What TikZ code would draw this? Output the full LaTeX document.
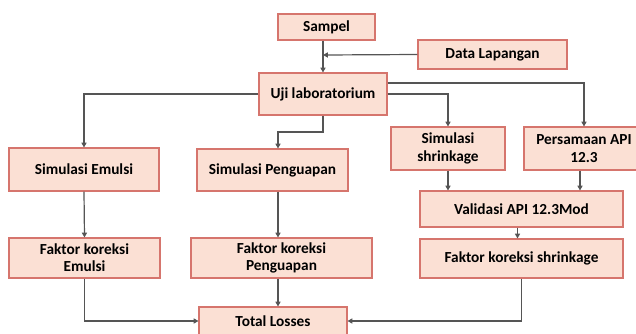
\documentclass[tikz,border=0pt]{standalone}
\usepackage{fontspec}
\setmainfont{Carlito}
\usepackage{xcolor}
\usetikzlibrary{arrows.meta,positioning}
\definecolor{isi}{HTML}{FBE0D4}
\definecolor{tepi}{HTML}{D6756D}
\definecolor{garis}{HTML}{555555}
\tikzset{
  blok/.style={draw=tepi,fill=isi,line width=0.8pt,align=center,inner sep=1pt,
    font=\fontsize{11.5}{13}\selectfont\bfseries},
  panah/.style={draw=garis,line width=0.9pt,-{Triangle[length=3.6pt,width=3.8pt]}}
}
\begin{document}
\begin{tikzpicture}[x=0.75pt,y=-0.75pt]
\useasboundingbox (0,0) rectangle (636,333);
\node[blok,minimum width=72.75pt,minimum height=19.5pt] (sampel) at (326.5,27) {Sampel};
\node[blok,minimum width=111.75pt,minimum height=21.75pt] (datalap) at (492.5,54.5) {Data Lapangan};
\node[blok,minimum width=96pt,minimum height=31.5pt] (uji) at (323,94) {Uji laboratorium};
\node[blok,minimum width=112.5pt,minimum height=32.25pt] (emulsi) at (84,169.5) {Simulasi Emulsi};
\node[blok,minimum width=113.25pt,minimum height=31.5pt] (penguapan) at (272.5,170) {Simulasi Penguapan};
\node[blok,minimum width=85.5pt,minimum height=32.25pt] (shrink) at (448,148.5) {Simulasi\\shrinkage};
\node[blok,minimum width=90pt,minimum height=32.25pt] (persamaan) at (584,148.5) {Persamaan API\\12.3};
\node[blok,minimum width=152.25pt,minimum height=27pt] (validasi) at (521.5,209) {Validasi API 12.3Mod};
\node[blok,minimum width=152.25pt,minimum height=29.25pt] (fkshrink) at (521.5,258.5) {Faktor koreksi shrinkage};
\node[blok,minimum width=113.25pt,minimum height=30pt] (fkemulsi) at (84.5,258) {Faktor koreksi\\Emulsi};
\node[blok,minimum width=135.75pt,minimum height=30pt] (fkpenguapan) at (281.5,258) {Faktor koreksi\\Penguapan};
\node[blok,minimum width=111pt,minimum height=21pt] (total) at (273,321) {Total Losses};
\coordinate (j1) at (323,55);
\coordinate (kp) at (278,132);
\draw[panah] (j1 |- sampel.south) -- (j1 |- uji.north);
\draw[panah] (datalap.west) -- (j1);
\draw[panah] (uji.west) -| (emulsi.north);
\draw[panah] (j1 |- uji.south) |- (kp) -- (kp |- penguapan.north);
\draw[panah] ([yshift=8.25pt]uji.east) -| (persamaan.north);
\draw[panah] (uji.east) -| (shrink.north);
\draw[panah] (shrink.south) -- (shrink.south |- validasi.north);
\draw[panah] ([xshift=-3pt]persamaan.south) -- ([xshift=-3pt]persamaan.south |- validasi.north);
\draw[panah] ([xshift=-3pt]validasi.south) -- ([xshift=-3pt]fkshrink.north);
\draw[panah] (emulsi.south) -- (fkemulsi.north);
\draw[panah] (kp |- penguapan.south) -- (kp |- fkpenguapan.north);
\draw[panah] (fkemulsi.south) |- (total.west);
\draw[panah] (kp |- fkpenguapan.south) -- (kp |- total.north);
\draw[panah] (fkshrink.south) |- (total.east);
\end{tikzpicture}
\end{document}
